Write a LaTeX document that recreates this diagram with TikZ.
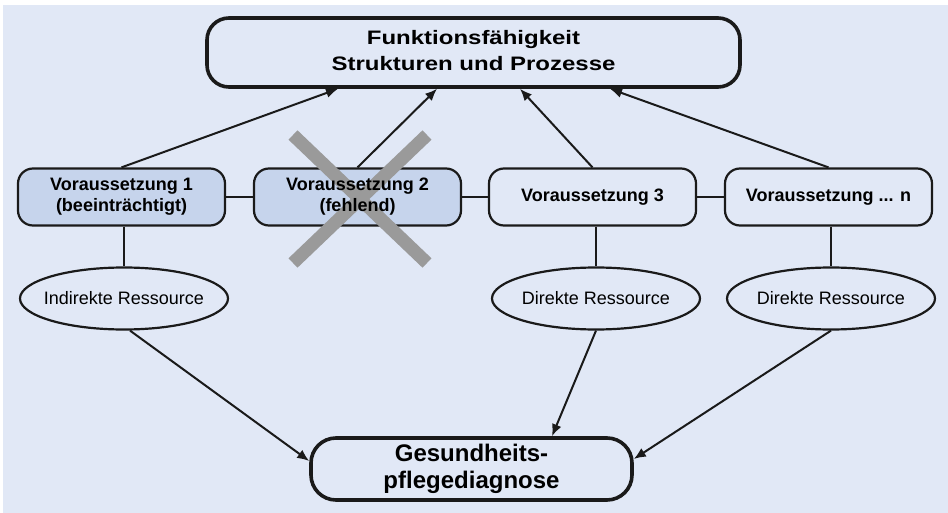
\documentclass[tikz,border=0pt]{standalone}
\usepackage{fontspec}
\setmainfont{Liberation Sans}
\usepackage{graphicx}
\usetikzlibrary{shapes.geometric,arrows.meta}
\definecolor{bgc}{HTML}{E1E8F6}
\definecolor{boxc}{HTML}{C6D4EC}
\definecolor{linec}{HTML}{1A1A1A}
\definecolor{xgray}{HTML}{9A9A9A}
\begin{document}
\begin{tikzpicture}[x=1pt,y=-1pt,
  bigbox/.style={draw=linec,line width=3.6pt,rounded corners=22pt,inner sep=0pt,align=center},
  vbox/.style={draw=linec,line width=2.2pt,rounded corners=15pt,minimum width=207pt,minimum height=57pt,inner sep=0pt,align=center,font=\fontsize{18}{21}\selectfont\bfseries},
  vtext/.style={inner sep=0pt,align=center,font=\fontsize{18}{21}\selectfont\bfseries},
  res/.style={draw=linec,line width=2.2pt,ellipse,minimum width=208pt,minimum height=62pt,inner xsep=-9pt,inner ysep=0pt,font=\fontsize{18}{21}\selectfont,fill=bgc},
  link/.style={draw=linec,line width=2pt},
  arr/.style={draw=linec,line width=2pt,-{Latex[length=12pt,width=10pt]}},
  cross/.style={draw=xgray,line width=13pt}
]
\useasboundingbox (0,0) rectangle (948,513);
\fill[white] (0,0) rectangle (948,513);
\fill[bgc] (3,5) rectangle (948,513);

% top box
\node[bigbox,minimum width=533pt,minimum height=69pt,fill=bgc,
  font=\fontsize{19.5}{26}\selectfont\bfseries] (title) at (473.5,52.5)
  {\raisebox{-3pt}{\scalebox{1.23}[1]{\begin{tabular}{@{}c@{}}Funktionsfähigkeit\\Strukturen und Prozesse\end{tabular}}}};

% bottom box
\node[bigbox,rounded corners=25pt,minimum width=321pt,minimum height=62pt,fill=bgc,
  font=\fontsize{24}{27}\selectfont\bfseries] (diag) at (471.5,469)
  {Gesundheits-\\pflegediagnose};

% Voraussetzungen
\node[vbox,fill=boxc] (v1) at (121.5,197) {Voraussetzung 1\\(beeinträchtigt)};
\node[vbox,fill=boxc] (v2) at (357.5,197) {};
\node[vbox,fill=bgc] (v3) at (592.5,197) {Voraussetzung 3};
\node[vbox,fill=bgc] (v4) at (828.5,197) {Voraussetzung ... n};

% resources
\node[res] (r1) at (124,298.5) {Indirekte Ressource};
\node[res] (r3) at (596,298.5) {Direkte Ressource};
\node[res] (r4) at (831,298.5) {Direkte Ressource};

% horizontal links
\draw[link] (v1.east) -- (v2.west);
\draw[link] (v2.east) -- (v3.west);
\draw[link] (v3.east) -- (v4.west);

% vertical links
\draw[link] (r1.north |- v1.south) -- (r1.north);
\draw[link] (r3.north |- v3.south) -- (r3.north);
\draw[link] (r4.north |- v4.south) -- (r4.north);

% arrows to title
\coordinate (t1) at (title.south -| 338,0);
\coordinate (t2) at (title.south -| 437,0);
\coordinate (t3) at (title.south -| 520,0);
\coordinate (t4) at (title.south -| 610,0);
\draw[arr] (v1.north) -- (t1);
\draw[arr] (v2.north) -- (t2);
\draw[arr] (v3.north) -- (t3);
\draw[arr] (v4.north) -- (t4);

% arrows to diagnosis
\coordinate (d1) at (diag.west |- 0,461);
\coordinate (d2) at (diag.north -| 552,0);
\coordinate (d3) at (diag.east |- 0,459);
\coordinate (r1s) at ([xshift=6pt]r1.south);
\draw[arr] (r1s) -- (d1);
\draw[arr] (r3.south) -- (d2);
\draw[arr] (r4.south) -- (d3);

% cross over Voraussetzung 2
\coordinate (xa) at (293,135);
\coordinate (xb) at (427,263);
\coordinate (xc) at (427,135);
\coordinate (xd) at (293,263);
\draw[cross] (xa) -- (xb);
\draw[cross] (xc) -- (xd);

\node[vtext] (v2t) at (v2.center) {Voraussetzung 2\\(fehlend)};
\end{tikzpicture}
\end{document}
